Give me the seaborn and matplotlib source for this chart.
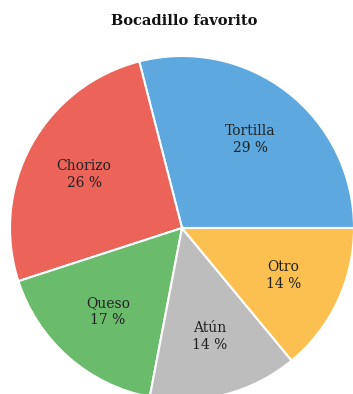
import matplotlib
matplotlib.use("Agg")
import matplotlib.pyplot as plt
import seaborn as sns

categories = ["Tortilla", "Chorizo", "Queso", "Atún", "Otro"]
values = [29, 26, 17, 14, 14]
colors = ["#5DA8DE", "#EB6359", "#6ABB6C", "#BDBDBD", "#FCC050"]

sns.set_theme(style="white")
plt.rcParams['font.family'] = ['DejaVu Serif']

W, H = 353, 394
fig = plt.figure(figsize=(W / 100, H / 100), dpi=100)
cx, cy, r = 182, 228, 172
ax = fig.add_axes([(cx - r) / W, (H - cy - r) / H, 2 * r / W, 2 * r / H])

labels = [f"{c}\n{v} %" for c, v in zip(categories, values)]
wedges, texts = ax.pie(values, colors=colors, startangle=0, counterclock=True,
                       labels=labels, labeldistance=0.65,
                       wedgeprops=dict(edgecolor="white", linewidth=1.5),
                       textprops=dict(fontsize=10, color="#222222",
                                      ha="center", va="center",
                                      linespacing=1.25))
ax.set_xlim(-1, 1)
ax.set_ylim(-1, 1)
ax.set_aspect("equal")
ax.axis("off")

fig.text(184 / W, 1 - 21 / H, "Bocadillo favorito", ha="center", va="center",
         fontsize=10.5, fontweight="bold", color="#111111")

fig.savefig("out.png", dpi=100)
